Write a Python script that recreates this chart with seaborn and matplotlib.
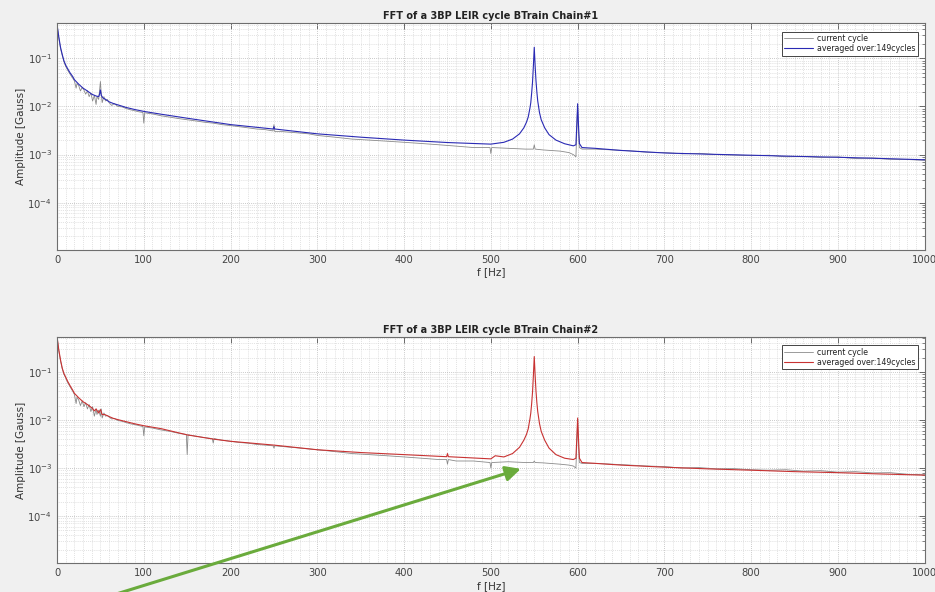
import numpy as np
import pandas as pd
import matplotlib
matplotlib.use("Agg")
import matplotlib.pyplot as plt
import seaborn as sns
from matplotlib.patches import FancyArrowPatch
from matplotlib.ticker import MultipleLocator, LogLocator, FixedLocator, NullFormatter

# ---------------- data ----------------
titles = ["FFT of a 3BP LEIR cycle BTrain Chain#1", "FFT of a 3BP LEIR cycle BTrain Chain#2"]
legend_labels = ["current cycle", "averaged over:149cycles"]
x_ticks = [0, 100, 200, 300, 400, 500, 600, 700, 800, 900, 1000]

# Chain #1 - averaged
f1_avg = [0, 1, 2, 4, 6, 8, 10, 12, 15, 18, 20, 25, 30, 35, 40, 45, 48, 49, 50, 51, 53, 56, 60, 65, 70,
          80, 90, 100, 120, 150, 200, 249, 250, 251, 300, 350, 400, 450, 500, 515, 525, 533, 538, 541,
          543, 545, 546, 547, 548, 549, 550, 551, 552, 553, 554, 556, 558, 562, 567, 575, 585, 595, 598,
          599, 600, 601, 602, 605, 620, 650, 700, 750, 800, 850, 900, 950, 1000]
a1_avg = [0.50, 0.38, 0.28, 0.17, 0.12, 0.088, 0.072, 0.062, 0.050, 0.042, 0.036, 0.029, 0.024, 0.021,
          0.018, 0.0165, 0.016, 0.018, 0.022, 0.017, 0.015, 0.014, 0.0125, 0.0115, 0.0108, 0.0095, 0.0086,
          0.0079, 0.0069, 0.0057, 0.0042, 0.0034, 0.0038, 0.0034, 0.0027, 0.0023, 0.0020, 0.00178,
          0.00165, 0.0018, 0.0021, 0.0027, 0.0036, 0.0047, 0.006, 0.0092, 0.012, 0.019, 0.032, 0.07,
          0.17, 0.07, 0.034, 0.02, 0.013, 0.0075, 0.0053, 0.0036, 0.0026, 0.002, 0.00168, 0.00152,
          0.0016, 0.004, 0.0114, 0.004, 0.0017, 0.0014, 0.00135, 0.00122, 0.00108, 0.00102, 0.00097,
          0.00092, 0.00088, 0.00083, 0.00078]

# Chain #1 - current cycle
f1_cur = [0, 1, 2, 4, 6, 8, 10, 12, 14, 16, 18, 20, 22, 23, 25, 27, 29, 31, 33, 35, 37, 39, 41, 43, 45,
          46, 48, 50, 51, 52, 54, 56, 58, 60, 63, 66, 70, 75, 80, 85, 90, 95, 99, 100, 101, 105, 110, 120,
          130, 140, 150, 160, 170, 180, 190, 200, 210, 220, 230, 240, 249, 250, 251, 260, 270, 280, 290,
          300, 320, 340, 360, 380, 400, 420, 440, 460, 480, 499, 500, 501, 520, 540, 549, 550, 551, 560,
          580, 590, 595, 598, 599, 600, 601, 602, 605, 620, 640, 660, 680, 700, 720, 740, 760, 780, 800,
          820, 840, 860, 880, 900, 920, 940, 960, 980, 1000]
a1_cur = [0.50, 0.36, 0.27, 0.16, 0.115, 0.085, 0.068, 0.058, 0.05, 0.044, 0.039, 0.034, 0.024, 0.03,
          0.027, 0.021, 0.025, 0.022, 0.018, 0.021, 0.016, 0.019, 0.013, 0.017, 0.011, 0.016, 0.014,
          0.033, 0.018, 0.012, 0.016, 0.013, 0.014, 0.012, 0.0105, 0.0115, 0.010, 0.0098, 0.009, 0.0085,
          0.0081, 0.0077, 0.0075, 0.0045, 0.0074, 0.0072, 0.007, 0.0064, 0.006, 0.0056, 0.0053, 0.005,
          0.0047, 0.0045, 0.0042, 0.004, 0.0038, 0.0036, 0.0034, 0.0033, 0.0031, 0.0042, 0.003, 0.003,
          0.0029, 0.0028, 0.0027, 0.0025, 0.0023, 0.0021, 0.002, 0.0019, 0.0018, 0.0017, 0.0016, 0.0015,
          0.0014, 0.0014, 0.00105, 0.0014, 0.00135, 0.0013, 0.0013, 0.0016, 0.0013, 0.00125, 0.00118,
          0.0011, 0.001, 0.0009, 0.003, 0.011, 0.003, 0.0014, 0.0013, 0.0013, 0.00125, 0.0012, 0.00112,
          0.0011, 0.00104, 0.00106, 0.001, 0.00098, 0.00095, 0.00097, 0.0009, 0.00092, 0.00087, 0.00089,
          0.00083, 0.00085, 0.0008, 0.00079, 0.00076]

# Chain #2 - averaged
f2_avg = [0, 1, 2, 4, 6, 8, 10, 12, 15, 18, 20, 25, 30, 35, 40, 43, 45, 48, 50, 52, 55, 60, 65, 70, 80,
          90, 100, 120, 150, 180, 200, 250, 300, 350, 400, 449, 450, 451, 500, 505, 515, 525, 533, 538,
          541, 543, 545, 546, 547, 548, 549, 550, 551, 552, 553, 554, 556, 558, 562, 567, 575, 585, 595,
          598, 599, 600, 601, 602, 605, 620, 650, 700, 750, 800, 850, 900, 950, 1000]
a2_avg = [0.55, 0.40, 0.29, 0.18, 0.12, 0.092, 0.078, 0.065, 0.052, 0.042, 0.036, 0.029, 0.024, 0.021,
          0.018, 0.0155, 0.017, 0.014, 0.0165, 0.013, 0.013, 0.0118, 0.0108, 0.0102, 0.0092, 0.0083,
          0.0076, 0.0066, 0.0049, 0.004, 0.0036, 0.0030, 0.0024, 0.0021, 0.0019, 0.00172, 0.002, 0.00172,
          0.00155, 0.0018, 0.0017, 0.002, 0.0027, 0.0038, 0.005, 0.0065, 0.0105, 0.014, 0.022, 0.038,
          0.085, 0.21, 0.085, 0.04, 0.023, 0.015, 0.0085, 0.0058, 0.0038, 0.0026, 0.0019, 0.0016, 0.0015,
          0.0016, 0.004, 0.011, 0.004, 0.0016, 0.0013, 0.00125, 0.00115, 0.00104, 0.00096, 0.0009,
          0.00084, 0.0008, 0.00075, 0.00071]

# Chain #2 - current cycle
f2_cur = [0, 1, 2, 4, 6, 8, 10, 12, 14, 16, 18, 20, 22, 23, 25, 27, 29, 31, 33, 35, 37, 39, 41, 43, 45,
          46, 48, 50, 51, 52, 54, 56, 58, 60, 63, 66, 70, 75, 80, 85, 90, 95, 99, 100, 101, 105, 110, 120,
          130, 140, 149, 150, 151, 160, 170, 179, 180, 181, 190, 200, 210, 220, 230, 240, 249, 250, 251,
          260, 270, 280, 290, 300, 320, 340, 360, 380, 400, 420, 440, 449, 450, 451, 460, 480, 499, 500,
          501, 520, 540, 549, 550, 551, 560, 580, 590, 595, 598, 599, 600, 601, 602, 605, 620, 640, 660,
          680, 700, 720, 740, 760, 780, 800, 820, 840, 860, 880, 900, 920, 940, 960, 980, 1000]
a2_cur = [0.55, 0.39, 0.28, 0.17, 0.118, 0.09, 0.075, 0.062, 0.053, 0.046, 0.04, 0.034, 0.022, 0.03,
          0.026, 0.02, 0.025, 0.019, 0.023, 0.017, 0.021, 0.015, 0.019, 0.012, 0.017, 0.013, 0.016,
          0.012, 0.017, 0.011, 0.014, 0.012, 0.0125, 0.0115, 0.0105, 0.0108, 0.0098, 0.0094, 0.0088,
          0.0083, 0.008, 0.0076, 0.0073, 0.0047, 0.0072, 0.007, 0.0068, 0.0062, 0.0058, 0.0053, 0.005,
          0.0019, 0.0049, 0.0046, 0.0043, 0.0041, 0.0033, 0.0041, 0.0038, 0.0036, 0.0034, 0.0033, 0.0031,
          0.003, 0.0029, 0.0026, 0.0029, 0.0028, 0.0027, 0.0026, 0.0025, 0.0024, 0.0022, 0.002, 0.0019,
          0.0018, 0.0017, 0.0016, 0.0015, 0.0015, 0.0012, 0.0015, 0.0014, 0.0014, 0.0013, 0.001, 0.0013,
          0.00135, 0.0013, 0.0013, 0.0014, 0.0013, 0.00128, 0.0012, 0.00115, 0.0011, 0.001, 0.003, 0.01,
          0.003, 0.0013, 0.00125, 0.00125, 0.0012, 0.00115, 0.0011, 0.00107, 0.001, 0.00102, 0.00096,
          0.00097, 0.00092, 0.0009, 0.00092, 0.00086, 0.00088, 0.00082, 0.00084, 0.00079, 0.0008,
          0.00074, 0.00072]

avg_colors = ["#2a2ab4", "#c83232"]
cur_color = "#8a8a8a"

# ---------------- figure ----------------
sns.set_style("white")
plt.rcParams["font.family"] = ["DejaVu Sans"]

fig = plt.figure(figsize=(9.35, 5.92), dpi=100, facecolor="#f0f0f0")
axes = [fig.add_axes([0.061, 0.578, 0.928, 0.383]),
        fig.add_axes([0.061, 0.049, 0.928, 0.382])]

series = [(f1_cur, a1_cur, f1_avg, a1_avg), (f2_cur, a2_cur, f2_avg, a2_avg)]

for i, ax in enumerate(axes):
    fc, ac, fa, aa = series[i]
    df_cur = pd.DataFrame({"f": fc, "amp": ac})
    df_avg = pd.DataFrame({"f": fa, "amp": aa})
    ax.set_facecolor("white")
    ax.set_yscale("log")
    sns.lineplot(data=df_cur, x="f", y="amp", ax=ax, color=cur_color, lw=0.6,
                 estimator=None, sort=False, label=legend_labels[0])
    sns.lineplot(data=df_avg, x="f", y="amp", ax=ax, color=avg_colors[i], lw=0.8,
                 estimator=None, sort=False, label=legend_labels[1])
    ax.set_xlim(0, 1000)
    ax.set_ylim(1.05e-5, 0.54)
    ax.xaxis.set_major_locator(FixedLocator(x_ticks))
    ax.xaxis.set_minor_locator(MultipleLocator(10))
    ax.yaxis.set_major_locator(FixedLocator([1e-4, 1e-3, 1e-2, 1e-1]))
    ax.yaxis.set_minor_locator(LogLocator(base=10, subs=np.arange(2, 10), numticks=20))
    ax.yaxis.set_minor_formatter(NullFormatter())
    ax.grid(True, which="major", color="#b8b8b8", ls=(0, (1, 1.5)), lw=0.6)
    ax.grid(True, which="minor", color="#d2d2d2", ls=(0, (1, 1.5)), lw=0.55)
    ax.tick_params(which="both", direction="in", top=True, right=True, colors="#555555",
                   labelcolor="#444444", labelsize=7.2)
    ax.tick_params(which="major", length=4, width=0.6)
    ax.tick_params(axis="x", which="minor", length=0)
    ax.tick_params(axis="y", which="minor", length=2.5, width=0.5)
    for sp in ax.spines.values():
        sp.set_color("#6e6e6e")
        sp.set_linewidth(0.8)
    ax.set_title(titles[i], fontsize=7.0, fontweight="bold", color="#222222", pad=3)
    ax.set_xlabel("f [Hz]", fontsize=7.5, color="#333333", labelpad=2)
    ax.set_ylabel("Amplitude [Gauss]", fontsize=7.5, color="#333333", labelpad=1)
    leg = ax.legend(loc="upper right", bbox_to_anchor=(0.992, 0.962), fontsize=5.7,
                    frameon=True, fancybox=False, framealpha=1, edgecolor="#444444",
                    handlelength=3.6, handletextpad=0.5, borderpad=0.3, labelspacing=0.15,
                    borderaxespad=0)
    leg.get_frame().set_linewidth(0.7)
    for t in leg.get_texts():
        t.set_color("#222222")

arrow = FancyArrowPatch((0.121, -0.005), (0.557, 0.208), transform=fig.transFigure,
                        arrowstyle="-|>,head_length=0.9,head_width=0.45", mutation_scale=10,
                        lw=2.2, color="#6aab3c", shrinkA=0, shrinkB=0)
fig.add_artist(arrow)

fig.savefig("out.png", dpi=100, facecolor=fig.get_facecolor())
